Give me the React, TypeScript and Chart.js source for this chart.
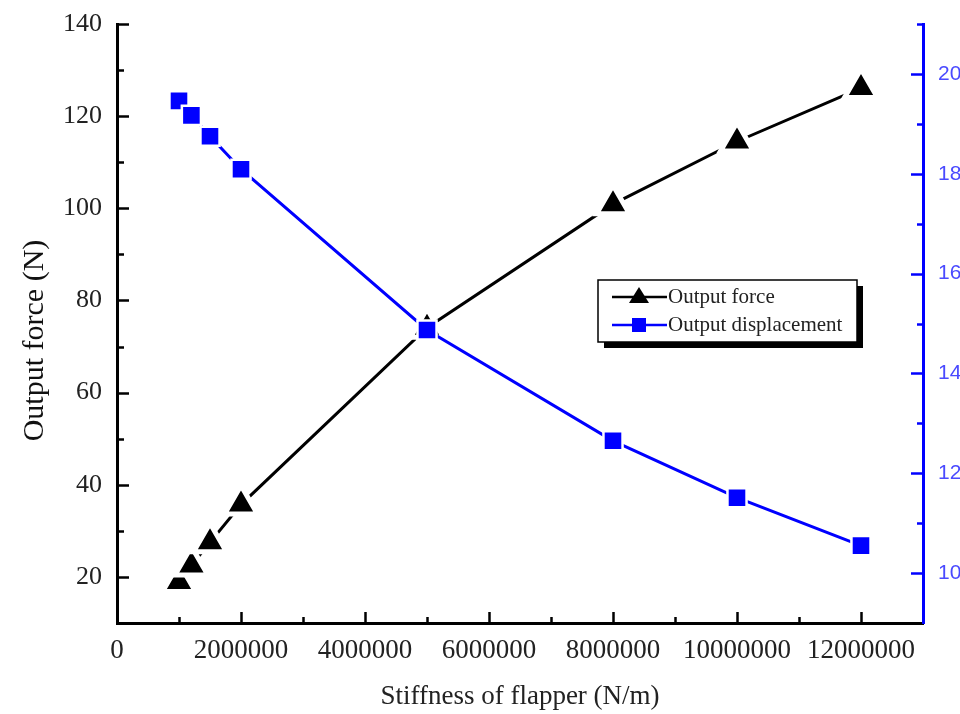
import React, { useEffect, useRef } from "react";
import { Chart, registerables } from "chart.js";

Chart.register(...registerables);

// ---- data ----
const stiffness = [1000000, 1200000, 1500000, 2000000, 5000000, 8000000, 10000000, 12000000];
const outputForce = [18.9, 22.5, 27.5, 35.7, 74.1, 100.9, 114.5, 126.1];
const outputDisplacement = [19.46, 19.17, 18.75, 18.09, 14.87, 12.65, 11.51, 10.55];

const seriesNames = ["Output force", "Output displacement"];
const xTitle = "Stiffness of flapper (N/m)";
const yTitle = "Output force (N)";

const xTickValues = [0, 2000000, 4000000, 6000000, 8000000, 10000000, 12000000];
const xMinorTickValues = [1000000, 3000000, 5000000, 7000000, 9000000, 11000000, 13000000];
const forceTickValues = [20, 40, 60, 80, 100, 120, 140];
const forceMinorTickValues = [30, 50, 70, 90, 110, 130];
const dispTickValues = [10, 12, 14, 16, 18, 20];
const dispMinorTickValues = [11, 13, 15, 17, 19, 21];

const SERIF = "'Liberation Serif', 'Times New Roman', serif";
const SANS = "'Liberation Sans', Arial, sans-serif";
const BLUE = "#0000ff";

const innerTicksPlugin = {
  id: "innerTicks",
  afterDatasetsDraw(chart: any) {
    const ctx = chart.ctx;
    const xs = chart.scales.x;
    const ys = chart.scales.y;
    const y1 = chart.scales.y1;
    const area = chart.chartArea;
    ctx.save();
    ctx.lineWidth = 2.5;
    ctx.lineCap = "butt";
    ctx.strokeStyle = "#000";
    const xTick = (v: number, len: number) => {
      const px = Math.round(xs.getPixelForValue(v)) + 0.5;
      if (px <= area.left + 2 || px >= area.right - 2) return;
      ctx.beginPath();
      ctx.moveTo(px, area.bottom);
      ctx.lineTo(px, area.bottom - len);
      ctx.stroke();
    };
    xTickValues.forEach((v) => xTick(v, 11));
    xMinorTickValues.forEach((v) => xTick(v, 6));
    const yTick = (v: number, len: number) => {
      const py = Math.round(ys.getPixelForValue(v)) + 0.5;
      ctx.beginPath();
      ctx.moveTo(area.left, py);
      ctx.lineTo(area.left + len, py);
      ctx.stroke();
    };
    forceTickValues.forEach((v) => yTick(v, 12));
    forceMinorTickValues.forEach((v) => yTick(v, 7));
    ctx.strokeStyle = BLUE;
    const rTick = (v: number, len: number) => {
      const py = Math.round(y1.getPixelForValue(v)) + 0.5;
      ctx.beginPath();
      ctx.moveTo(area.right, py);
      ctx.lineTo(area.right - len, py);
      ctx.stroke();
    };
    dispTickValues.forEach((v) => rTick(v, 12));
    dispMinorTickValues.forEach((v) => rTick(v, 6));
    ctx.restore();
  },
};

const titleAndLegendPlugin = {
  id: "boxLegend",
  afterDraw(chart: any) {
    const ctx = chart.ctx;
    const area = chart.chartArea;
    ctx.save();
    // y axis title
    ctx.translate(area.left - 82, (area.top + area.bottom) / 2 + 17);
    ctx.rotate(-Math.PI / 2);
    ctx.fillStyle = "#111";
    ctx.font = `30px ${SERIF}`;
    ctx.textAlign = "center";
    ctx.textBaseline = "middle";
    ctx.fillText(yTitle, 0, 0);
    ctx.restore();

    const lx = area.left + 481;
    const ly = area.top + 256;
    const lw = 259;
    const lh = 62;
    ctx.save();
    ctx.fillStyle = "#000";
    ctx.fillRect(lx + 6, ly + 6, lw, lh);
    ctx.fillStyle = "#fff";
    ctx.fillRect(lx, ly, lw, lh);
    ctx.strokeStyle = "#000";
    ctx.lineWidth = 1.5;
    ctx.strokeRect(lx, ly, lw, lh);

    const rows = [ly + 17, ly + 45];
    const colors = ["#000", BLUE];
    rows.forEach((ry, i) => {
      ctx.strokeStyle = colors[i];
      ctx.lineWidth = 2.5;
      ctx.beginPath();
      ctx.moveTo(lx + 14, ry);
      ctx.lineTo(lx + 69, ry);
      ctx.stroke();
      ctx.fillStyle = colors[i];
      const cx = lx + 41;
      if (i === 0) {
        ctx.beginPath();
        ctx.moveTo(cx, ry - 10);
        ctx.lineTo(cx + 10, ry + 6);
        ctx.lineTo(cx - 10, ry + 6);
        ctx.closePath();
        ctx.fill();
      } else {
        ctx.fillRect(cx - 7, ry - 7, 14, 14);
      }
      ctx.fillStyle = "#222";
      ctx.font = `21px ${SERIF}`;
      ctx.textBaseline = "middle";
      ctx.textAlign = "left";
      ctx.fillText(seriesNames[i], lx + 70, ry);
    });
    ctx.restore();
  },
};

export default function App() {
  const ref = useRef<HTMLCanvasElement | null>(null);

  useEffect(() => {
    if (!ref.current) return;
    const chart = new Chart(ref.current, {
      type: "line",
      data: {
        datasets: [
          {
            label: seriesNames[0],
            data: stiffness.map((s, i) => ({ x: s, y: outputForce[i] })),
            yAxisID: "y",
            borderColor: "#000",
            backgroundColor: "#000",
            borderWidth: 3,
            pointStyle: "triangle",
            pointRadius: 19,
            pointBorderWidth: 5,
            pointBorderColor: "#fff",
            pointBackgroundColor: "#000",
            order: 1,
          },
          {
            label: seriesNames[1],
            data: stiffness.map((s, i) => ({ x: s, y: outputDisplacement[i] })),
            yAxisID: "y1",
            borderColor: BLUE,
            backgroundColor: BLUE,
            borderWidth: 3,
            pointStyle: "rect",
            pointRadius: 13.5,
            pointBorderWidth: 2.5,
            pointBorderColor: "#fff",
            pointBackgroundColor: BLUE,
            order: 0,
          },
        ],
      },
      options: {
        animation: false,
        responsive: true,
        maintainAspectRatio: false,
        layout: { padding: { left: 0, right: 0, top: 15, bottom: 0 } },
        plugins: {
          legend: { display: false },
          tooltip: { enabled: false },
        },
        scales: {
          x: {
            type: "linear",
            min: 0,
            max: 13000000,
            grid: { display: false },
            border: { display: true, color: "#000", width: 3 },
            afterBuildTicks: (scale: any) => {
              scale.ticks = xTickValues.map((v) => ({ value: v }));
            },
            afterFit: (scale: any) => {
              scale.height = 91;
            },
            ticks: {
              autoSkip: false,
              maxRotation: 0,
              padding: 4,
              color: "#222",
              font: { family: SERIF, size: 27 },
              callback: (v: any) => String(v),
            },
            title: {
              display: true,
              text: xTitle,
              color: "#222",
              font: { family: SERIF, size: 27, lineHeight: 1 },
              padding: { top: 0, bottom: 4 },
            },
          },
          y: {
            type: "linear",
            position: "left",
            min: 10,
            max: 140,
            grid: { display: false },
            border: { display: true, color: "#000", width: 3 },
            afterBuildTicks: (scale: any) => {
              scale.ticks = forceTickValues.map((v) => ({ value: v }));
            },
            afterFit: (scale: any) => {
              scale.width = 117;
            },
            ticks: {
              autoSkip: false,
              padding: 7,
              color: "#222",
              font: { family: SERIF, size: 26 },
              callback: (v: any) => String(v),
            },
          },
          y1: {
            type: "linear",
            position: "right",
            min: 9,
            max: 21,
            grid: { display: false },
            border: { display: true, color: BLUE, width: 3 },
            afterBuildTicks: (scale: any) => {
              scale.ticks = dispTickValues.map((v) => ({ value: v }));
            },
            afterFit: (scale: any) => {
              scale.width = 37;
            },
            ticks: {
              autoSkip: false,
              padding: 7,
              color: "#4a4aff",
              font: { family: SANS, size: 21 },
              callback: (v: any) => String(v),
            },
          },
        },
      },
      plugins: [innerTicksPlugin, titleAndLegendPlugin],
    });
    return () => chart.destroy();
  }, []);

  return (
    <div style={{ position: "absolute", left: 0, top: 0, width: 960, height: 714, background: "#fff" }}>
      <canvas ref={ref} />
    </div>
  );
}
